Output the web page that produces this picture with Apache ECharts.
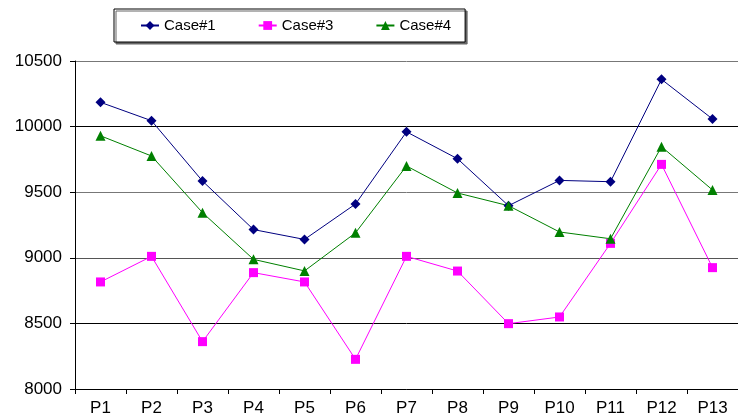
<!DOCTYPE html>
<html>
<head>
<meta charset="utf-8">
<script src="https://cdn.jsdelivr.net/npm/echarts@6/dist/echarts.min.js"></script>
<style>html,body{margin:0;padding:0;background:#fff;}#c{width:738px;height:419px;}</style>
</head>
<body>
<div id="c"></div>
<script>
var categories = ['P1','P2','P3','P4','P5','P6','P7','P8','P9','P10','P11','P12','P13'];
var case1 = [10185,10045,9585,9215,9140,9410,9960,9755,9397,9590,9580,10360,10058];
var case3 = [8816,9011,8361,8887,8816,8226,9011,8899,8498,8549,9110,9712,8925];
var case4 = [9930,9776,9344,8988,8900,9190,9700,9494,9397,9197,9145,9847,9517];
var yTicks = {min: 8000, max: 10500, interval: 500};

var font = 'Liberation Sans, Arial, sans-serif';
var chart = echarts.init(document.getElementById('c'), null, {renderer: 'canvas'});
chart.setOption({
  animation: false,
  backgroundColor: '#fff',
  legend: {
    left: 114, top: 9,
    padding: [9, 14, 9, 26],
    itemGap: 42,
    itemWidth: 18, itemHeight: 11,
    backgroundColor: '#fff',
    borderColor: '#000', borderWidth: 1,
    borderRadius: 0,
    shadowColor: '#666', shadowOffsetX: 2, shadowOffsetY: 2, shadowBlur: 0,
    textStyle: {fontFamily: font, fontSize: 15, color: '#000'},
    data: ['Case#1','Case#3','Case#4']
  },
  grid: {left: 75, top: 61, bottom: 30, right: -7, containLabel: false},
  xAxis: {
    type: 'category',
    data: categories,
    boundaryGap: true,
    axisLine: {lineStyle: {color: '#000', width: 1}},
    axisTick: {show: true, length: 5, inside: false, lineStyle: {color: '#000'}},
    axisLabel: {fontFamily: font, fontSize: 17, color: '#000', margin: 11, interval: 0}
  },
  yAxis: {
    type: 'value',
    min: yTicks.min, max: yTicks.max, interval: yTicks.interval,
    axisLine: {show: true, lineStyle: {color: '#000', width: 1}},
    axisTick: {show: true, length: 5, lineStyle: {color: '#000'}},
    axisLabel: {fontFamily: font, fontSize: 17, color: '#000', margin: 13,
      formatter: function (v) { return String(v); }},
    splitLine: {show: true, lineStyle: {color: ['#777','#000','#555','#777','#000','#777'], width: 1}}
  },
  series: [
    {name: 'Case#1', type: 'line', data: case1, symbol: 'diamond', symbolSize: 10,
     itemStyle: {color: '#000080'}, lineStyle: {color: '#000080', width: 1}},
    {name: 'Case#3', type: 'line', data: case3, symbol: 'rect', symbolSize: 9,
     itemStyle: {color: '#FF00FF'}, lineStyle: {color: '#FF00FF', width: 1}},
    {name: 'Case#4', type: 'line', data: case4, symbol: 'triangle', symbolSize: 10,
     itemStyle: {color: '#008000'}, lineStyle: {color: '#008000', width: 1}}
  ]
});
</script>
</body>
</html>
